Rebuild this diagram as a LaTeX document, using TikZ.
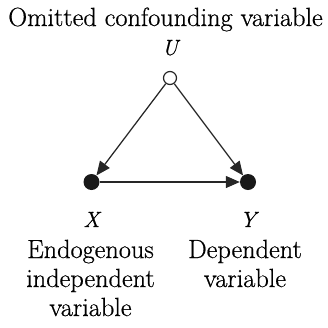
\documentclass[tikz,border=0pt]{standalone}
\usepackage{fontspec}
\setmainfont{Latin Modern Roman}[FakeBold=0.6]
\usetikzlibrary{arrows.meta}
\tikzset{
  lbl/.style={inner sep=0pt, anchor=base, font=\fontsize{26.3}{29}\selectfont},
  var/.style={inner sep=0pt, anchor=base, font=\fontsize{22}{26}\selectfont\itshape},
  opendot/.style={circle, draw=black!85, fill=white, line width=1.2pt, minimum size=13pt, inner sep=0pt},
  fulldot/.style={circle, fill=black!90, minimum size=16pt, inner sep=0pt},
  arr/.style={line width=1.25pt, draw=black!85, -{Triangle[length=14pt,width=12pt]}}
}
\newcommand{\stackc}[1]{\vtop{\halign{\hfil##\hfil\cr#1\crcr}}}
\begin{document}
\begin{tikzpicture}[x=1pt, y={(0pt,-1pt)}]
\useasboundingbox (0,0) rectangle (328,327);
\node[lbl] (title) at (165.5,26) {Omitted confounding variable};
\node[var] (ulab) at (170,55) {U};
\node[opendot] (u) at (170,78) {};
\node[fulldot] (x) at (91.5,182) {};
\node[fulldot] (y) at (248,182) {};
\node[var] (xlab) at (91.5,227) {X};
\node[var] (ylab) at (248,227) {Y};
\node[lbl] (xdesc) at (90.5,258) {\stackc{Endogenous\cr independent\cr variable}};
\node[lbl] (ydesc) at (245,258) {\stackc{Dependent\cr variable}};
\draw[arr] (u) -- (x);
\draw[arr] (u) -- (y);
\draw[arr] (x) -- (y);
\end{tikzpicture}
\end{document}
